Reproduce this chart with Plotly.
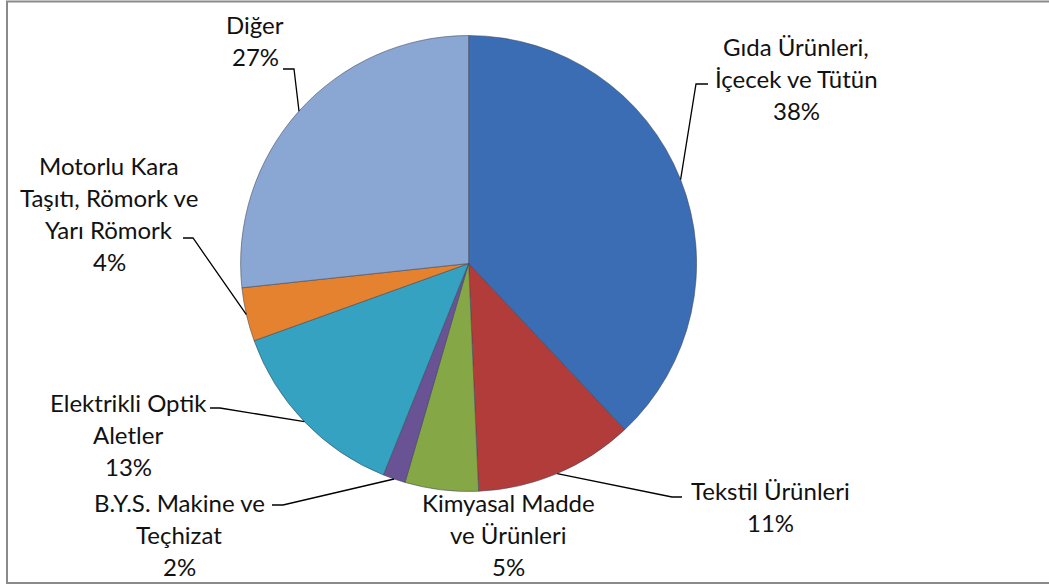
import math
import plotly.graph_objects as go

# ---- data ----
categories = ["Gıda Ürünleri, İçecek ve Tütün", "Tekstil Ürünleri", "Kimyasal Madde ve Ürünleri",
              "B.Y.S. Makine ve Teçhizat", "Elektrikli Optik Aletler",
              "Motorlu Kara Taşıtı, Römork ve Yarı Römork", "Diğer"]
values = [38.0, 11.3, 5.2, 1.6, 13.4, 3.8, 26.7]
label_lines = [
    ["Gıda Ürünleri,", "İçecek ve Tütün"],
    ["Tekstil Ürünleri"],
    ["Kimyasal Madde", "ve Ürünleri"],
    ["B.Y.S. Makine ve", "Teçhizat"],
    ["Elektrikli Optik", "Aletler"],
    ["Motorlu Kara", "Taşıtı, Römork ve", "Yarı Römork"],
    ["Diğer"],
]
colors = ["#3A6DB3", "#B23C39", "#86A745", "#6A5394", "#34A2C0", "#E5822F", "#8AA6D3"]

# ---- layout constants (pixels) ----
W, H = 1049, 587
CX, CY, R = 468.6, 263.5, 228.0
LINE_H = 32.3
# label block: (center x, first line y), leader elbow (x,y), leader end x (None = no leader)
label_pos = [(796, 46), (770, 490), (508, 502), (179, 502), (128, 402), (109, 165), (255, 24)]
elbows = [(696, 84, 708), (672, 497, 682), None, (283, 505, 272), (220, 408, 210),
          (193, 238, 183), (294, 69, 283)]

total = sum(values)
fig = go.Figure()
fig.add_trace(go.Pie(
    labels=categories, values=values, sort=False, direction="clockwise", rotation=0,
    marker=dict(colors=colors, line=dict(color="rgba(60,70,90,0.55)", width=1)),
    textinfo="none", hoverinfo="label+percent", showlegend=False,
    domain=dict(x=[(CX - R) / W, (CX + R) / W], y=[1 - (CY + R) / H, 1 - (CY - R) / H]),
))

annotations = []
shapes = [dict(type="rect", xref="x", yref="y", x0=7, y0=1.5, x1=1052, y1=583,
               line=dict(color="#8a8a8a", width=2), fillcolor="rgba(0,0,0,0)", layer="below")]
font = dict(family="Lato, Carlito, sans-serif", size=24, color="#111111")
cum = 0.0
for i, v in enumerate(values):
    mid = (cum + v / 2) / total * 2 * math.pi
    cum += v
    lines = label_lines[i] + [f"{round(v / total * 100)}%"]
    cx, y0 = label_pos[i]
    for k, t in enumerate(lines):
        annotations.append(dict(x=cx, y=y0 + k * LINE_H, xref="x", yref="y", text=t,
                                showarrow=False, xanchor="center", yanchor="middle", font=font))
    if elbows[i] is not None:
        sx = CX + R * math.sin(mid)
        sy = CY - R * math.cos(mid)
        ex, ey, endx = elbows[i]
        shapes.append(dict(type="path", xref="x", yref="y",
                           path=f"M {sx:.1f},{sy:.1f} L {ex},{ey} L {endx},{ey}",
                           line=dict(color="#000000", width=1.3)))

fig.update_layout(
    width=W, height=H, margin=dict(l=0, r=0, t=0, b=0),
    paper_bgcolor="white", plot_bgcolor="rgba(0,0,0,0)",
    xaxis=dict(range=[0, W], visible=False, fixedrange=True),
    yaxis=dict(range=[H, 0], visible=False, fixedrange=True),
    annotations=annotations, shapes=shapes,
)
fig.write_html("out.html", config={"displayModeBar": False},
               post_script="document.body.style.margin='0';")
